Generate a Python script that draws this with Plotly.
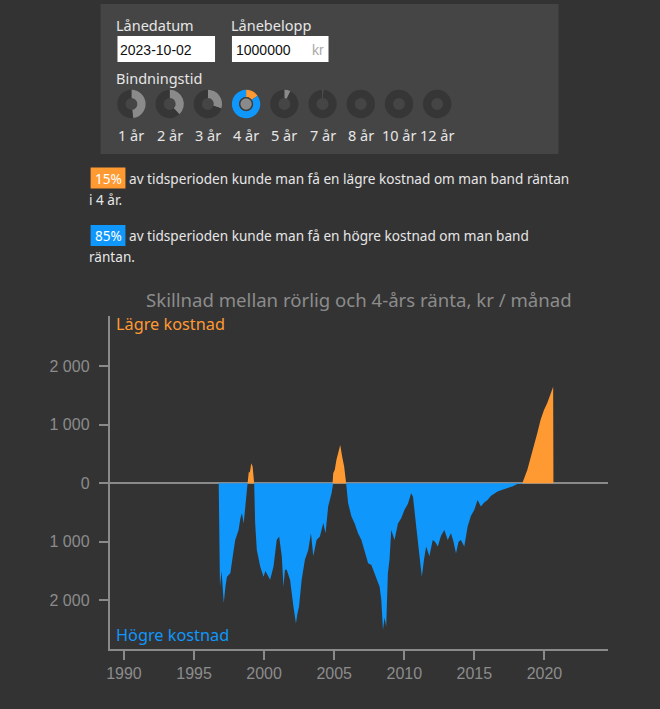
import plotly.graph_objects as go

# ---------------- data ----------------
years = [1996.76, 1996.80, 1996.85, 1996.96, 1997.12, 1997.25, 1997.35, 1997.59, 1997.71, 1997.83,
         1997.94, 1998.18, 1998.31, 1998.42, 1998.54, 1998.65, 1998.82, 1998.91, 1998.98, 1999.08,
         1999.18, 1999.29, 1999.36, 1999.48, 1999.72, 1999.96, 2000.09, 2000.19, 2000.43, 2000.67,
         2000.90, 2001.07, 2001.26, 2001.38, 2001.49, 2001.61, 2001.85, 2002.09, 2002.27, 2002.36,
         2002.49, 2002.68, 2002.91, 2003.15, 2003.34, 2003.51, 2003.74, 2003.98, 2004.22, 2004.38,
         2004.57, 2004.81, 2004.88, 2004.93, 2005.04, 2005.16, 2005.28, 2005.43, 2005.57, 2005.71,
         2005.85, 2005.99, 2006.23, 2006.46, 2006.70, 2006.94, 2007.42, 2007.65, 2007.89, 2008.24,
         2008.36, 2008.48, 2008.59, 2008.71, 2008.83, 2008.95, 2009.07, 2009.30, 2009.55, 2009.78,
         2010.01, 2010.26, 2010.49, 2010.62, 2010.85, 2011.08, 2011.25, 2011.41, 2011.56, 2011.79,
         2012.03, 2012.19, 2012.39, 2012.62, 2012.86, 2013.10, 2013.33, 2013.51, 2013.69, 2013.87,
         2014.04, 2014.28, 2014.52, 2014.75, 2014.99, 2015.23, 2015.46, 2015.70, 2015.94, 2016.17,
         2016.65, 2017.00, 2017.36, 2017.71, 2018.07, 2018.42, 2018.78, 2019.01, 2019.25, 2019.49,
         2019.72, 2019.96, 2020.20, 2020.40, 2020.62, 2020.64]
diff = [0, -1200, -1770, -1500, -2050, -1750, -1600, -1540, -1300, -1140,
        -970, -800, -600, -513, -690, -400, 0, 200, 180, 340,
        285, 0, -690, -1140, -1425, -1600, -1500, -1540, -1650, -1425,
        -970, -910, -1250, -1770, -1480, -1480, -1650, -2110, -2400, -2250,
        -2110, -1650, -1310, -1140, -855, -1250, -970, -910, -680, -855,
        -400, -170, 0, 170, 230, 400, 513, 655, 455, 285,
        0, -340, -570, -690, -855, -970, -1370, -1400, -1540, -1770,
        -2000, -2510, -2300, -2450, -1540, -1300, -800, -970, -690, -600,
        -456, -350, -170, -230, -740, -1310, -1600, -1300, -1080, -1250,
        -970, -1000, -1080, -900, -800, -970, -855, -1000, -1200, -1000,
        -970, -1080, -740, -560, -456, -285, -400, -330, -285, -220,
        -143, -110, -85, -55, -12, 0, 230, 420, 626, 860,
        1080, 1250, 1370, 1520, 1650, 0]

x_ticks = [1990, 1995, 2000, 2005, 2010, 2015, 2020]
y_ticks = [-2000, -1000, 0, 1000, 2000]
y_ticktext = ["2 000", "1 000", "0", "1 000", "2 000"]

durations = ["1 år", "2 år", "3 år", "4 år", "5 år", "7 år", "8 år", "10 år", "12 år"]
lower_share = [0.48, 0.38, 0.30, 0.15, 0.07, 0.01, 0.0, 0.0, 0.0]
selected = "4 år"

pct_lower = "15%"
pct_higher = "85%"

# ---------------- styling ----------------
W, H = 660, 709
BG = "#333333"
PANEL = "#454545"
ORANGE = "#ff9a33"
BLUE = "#0f97fb"
GRAY = "#8a8a8a"
TXT = "#e6e6e6"
FONT = "Noto Sans"


def fx(x):
    return x / W


def fy(y):
    return 1 - y / H


pos = [max(v, 0) for v in diff]
neg = [min(v, 0) for v in diff]

fig = go.Figure()
fig.add_trace(go.Scatter(x=years, y=neg, fill="tozeroy", mode="lines",
                         line=dict(width=0, color=BLUE), fillcolor=BLUE,
                         hoverinfo="skip", showlegend=False))
fig.add_trace(go.Scatter(x=years, y=pos, fill="tozeroy", mode="lines",
                         line=dict(width=0, color=ORANGE), fillcolor=ORANGE,
                         hoverinfo="skip", showlegend=False))

shapes = []
annotations = []

# control panel
shapes.append(dict(type="rect", xref="paper", yref="paper", x0=fx(98), x1=fx(558),
                   y0=fy(154), y1=fy(4), fillcolor=PANEL, line=dict(width=0), layer="below"))


def label(x, y, text, size=15, color=TXT, anchor="left", family=FONT):
    annotations.append(dict(x=fx(x), y=fy(y), xref="paper", yref="paper", text=text,
                            showarrow=False, xanchor=anchor, yanchor="middle",
                            font=dict(size=size, color=color, family=family)))


label(112, 25, "Lånedatum", 14.5)
label(227, 25, "Lånebelopp", 14.5)
for bx0, bx1 in [(115, 213), (230, 327)]:
    shapes.append(dict(type="rect", xref="paper", yref="paper", x0=fx(bx0), x1=fx(bx1),
                       y0=fy(62), y1=fy(36), fillcolor="white", line=dict(width=0),
                       layer="below"))
label(116, 49.5, "2023-10-02", 14, "#111111", family="Liberation Sans")
label(232, 49.5, "1000000", 14, "#111111", family="Liberation Sans")
label(308, 49.5, "kr", 14, "#aaaaaa", family="Liberation Sans")
label(112, 78, "Bindningstid", 14.5)

# donuts
cx0, step, cy, d = 129, 38.4, 104, 28.5
for i, (name, share) in enumerate(zip(durations, lower_share)):
    cx = cx0 + i * step
    dom = dict(x=[fx(cx - d / 2), fx(cx + d / 2)], y=[fy(cy + d / 2), fy(cy - d / 2)])
    if name == selected:
        colors = [ORANGE, BLUE]
        hole = 0.5
    else:
        colors = [GRAY, "#363636"]
        hole = 0.42
    fig.add_trace(go.Pie(values=[share, 1 - share], marker=dict(colors=colors, line=dict(width=0)),
                         hole=hole, sort=False, direction="clockwise", rotation=0,
                         textinfo="none", hoverinfo="skip", showlegend=False, domain=dom))
    if name == selected:
        rr = 6.3
        shapes.append(dict(type="circle", xref="paper", yref="paper",
                           x0=fx(cx - rr), x1=fx(cx + rr), y0=fy(cy + rr), y1=fy(cy - rr),
                           fillcolor=GRAY, line=dict(width=1.2, color="#3a3a3a"), layer="above"))
    label(cx, 134.5, name, 14.5, TXT, anchor="center")


# summary sentences with badges
def badge(yc, text, color):
    shapes.append(dict(type="rect", xref="paper", yref="paper", x0=fx(88), x1=fx(123),
                       y0=fy(yc + 10.5), y1=fy(yc - 10.5), fillcolor=color,
                       line=dict(width=0), layer="below"))
    label(105.5, yc, text, 13.6, "white", anchor="center")


badge(178, pct_lower, ORANGE)
label(125, 178, "av tidsperioden kunde man få en lägre kostnad om man band räntan", 13.6)
label(84.5, 199.5, "i 4 år.", 13.6)
badge(235.5, pct_higher, BLUE)
label(125, 235.5, "av tidsperioden kunde man få en högre kostnad om man band", 13.6)
label(84.5, 256.5, "räntan.", 13.6)

# chart texts
label(357.5, 299, "Skillnad mellan rörlig och 4-års ränta, kr / månad", 18.6, "#8c8c8c", anchor="center")
label(112, 324, "Lägre kostnad", 16.3, ORANGE)
label(112, 635, "Högre kostnad", 16.3, BLUE)

axis_common = dict(showgrid=False, ticks="outside", ticklen=9, tickwidth=1.5,
                   tickcolor=GRAY, showline=True, linecolor=GRAY, linewidth=1.5,
                   tickfont=dict(size=16, color="#8c8c8c", family="Liberation Sans"))

fig.update_layout(
    width=W, height=H,
    margin=dict(l=0, r=0, t=0, b=0),
    paper_bgcolor=BG, plot_bgcolor=BG,
    xaxis=dict(domain=[fx(107), fx(608)], range=[1988.97, 2024.55],
               tickvals=x_ticks, ticktext=[str(t) for t in x_ticks],
               zeroline=False, fixedrange=True, ticklabelstandoff=0, **axis_common),
    yaxis=dict(domain=[fy(649), fy(316)], range=[-2835, 2860],
               tickvals=y_ticks, ticktext=y_ticktext,
               zeroline=True, zerolinecolor=GRAY, zerolinewidth=1.5,
               fixedrange=True, ticklabelstandoff=6, **axis_common),
    shapes=shapes,
    annotations=annotations,
    showlegend=False,
)

fig.write_html("out.html")
